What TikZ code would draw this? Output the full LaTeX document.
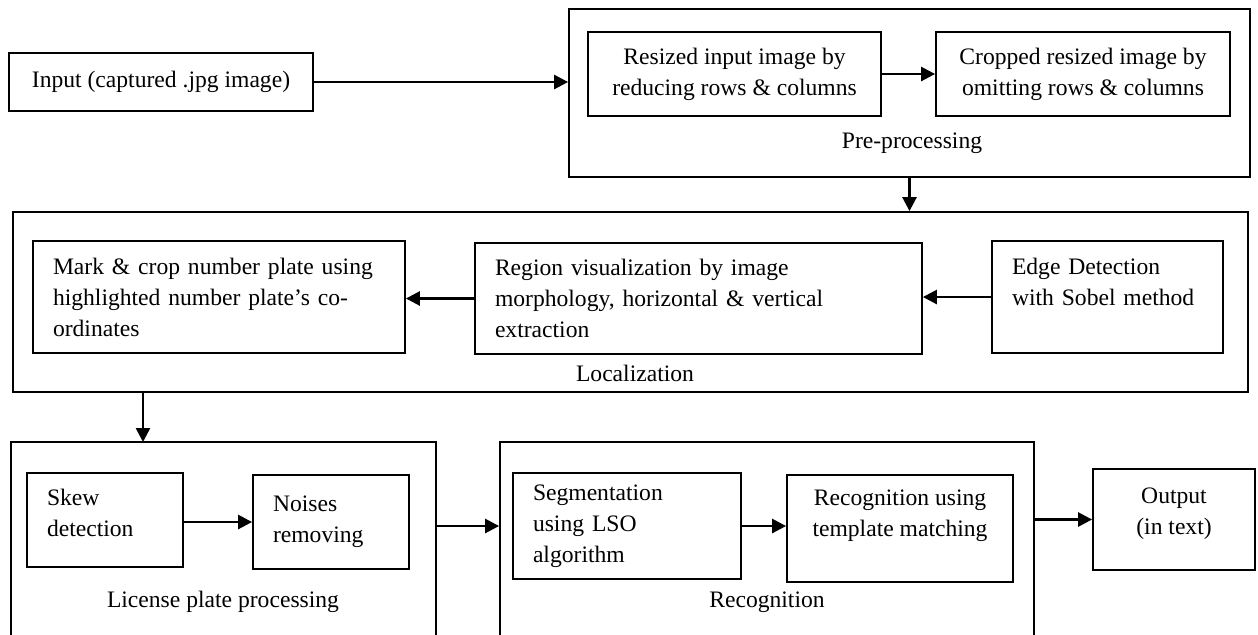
\documentclass[tikz,border=0pt]{standalone}
\usepackage{fontspec}
\setmainfont{Liberation Serif}
\usetikzlibrary{arrows.meta}
\tikzset{every node/.style={font=\fontsize{11.8}{15.5}\selectfont},
  stagebox/.style={draw, line width=0.9pt, rectangle, inner sep=0pt},
  stepbox/.style={draw, line width=0.9pt, rectangle, inner sep=0pt, align=center},
  leftbox/.style={draw, line width=0.9pt, rectangle, inner xsep=10pt, inner ysep=0pt, align=left},
  flow/.style={line width=1.3pt, -{Triangle[length=7pt,width=7pt]}}}

\begin{document}
\begin{tikzpicture}[x=0.5pt, y=-0.5pt]
  \path[use as bounding box, clip] (0,0) rectangle (1258,634);
  \fill[white] (0,0) rectangle (1258,634);
  \node[stepbox, minimum width=152pt, minimum height=29pt] (input) at (161,82) {Input (captured .jpg image)};
  % pre-processing
  \node[stagebox, minimum width=340.5pt, minimum height=84pt] (pre) at (909.5,93) {};
  \node[stepbox, minimum width=146.5pt, minimum height=42pt] (resize) at (734.5,74) {Resized input image by\\reducing rows \& columns};
  \node[stepbox, minimum width=147pt, minimum height=42pt] (crop) at (1083,74) {Cropped resized image by\\omitting rows \& columns};
  \node (prelabel) at (912,143) {Pre-processing};
  % localization
  \node[stagebox, minimum width=617.5pt, minimum height=90pt] (loc) at (630.5,302) {};
  \node[leftbox, minimum width=186pt, text width=166pt, minimum height=56pt] (mark) at (219,297) {Mark \& crop number plate using\\highlighted number plate's co-\\ordinates};
  \node[leftbox, minimum width=223.5pt, text width=203.5pt, minimum height=55.5pt] (region) at (698.5,298.5) {Region visualization by image\\morphology, horizontal \& vertical\\extraction};
  \node[leftbox, minimum width=115.5pt, text width=95.5pt, minimum height=56pt] (edge) at (1107.5,297) {Edge Detection\\with Sobel method\\\mbox{}};
  \node (loclabel) at (635,373) {Localization};
  % license plate processing
  \node[stagebox, minimum width=212.5pt, minimum height=129pt] (lpp) at (223.5,571) {};
  \node[leftbox, minimum width=78pt, text width=58pt, minimum height=47pt] (skew) at (105,520) {Skew\\detection\\[-8pt]\mbox{}};
  \node[leftbox, minimum width=78pt, text width=58pt, minimum height=47pt] (noise) at (331,522) {Noises\\removing};
  \node (lpplabel) at (223,602) {License plate processing};
  % recognition
  \node[stagebox, minimum width=267pt, minimum height=129pt] (rec) at (767,571) {};
  \node[leftbox, minimum width=114pt, text width=94pt, minimum height=53pt] (seg) at (627,526) {Segmentation\\using LSO\\algorithm};
  \node[stepbox, minimum width=113pt, minimum height=53.5pt] (match) at (900,528.5) {Recognition using\\template matching\\\mbox{}};
  \node (reclabel) at (767,602) {Recognition};
  \node[stepbox, minimum width=81pt, minimum height=50.5pt] (output) at (1174,519.5) {Output\\(in text)\\[-7pt]\mbox{}};
  \coordinate (lppin) at (143,442);

  \draw[flow] (input) -- (input -| pre.west);
  \draw[flow] (resize) -- (crop);
  \draw[flow] (pre) -- (pre |- loc.north);
  \draw[flow] (edge) -- (edge -| region.east);
  \draw[flow] (region) -- (region -| mark.east);
  \draw[flow] (loc.south -| lppin) -- (lppin);
  \draw[flow] (skew.east |- noise) -- (noise);
  \draw[flow] (lpp.east |- seg) -- (rec.west |- seg);
  \draw[flow] (seg) -- (seg -| match.west);
  \draw[flow] (rec.east |- output) -- (output);
\end{tikzpicture}
\end{document}
